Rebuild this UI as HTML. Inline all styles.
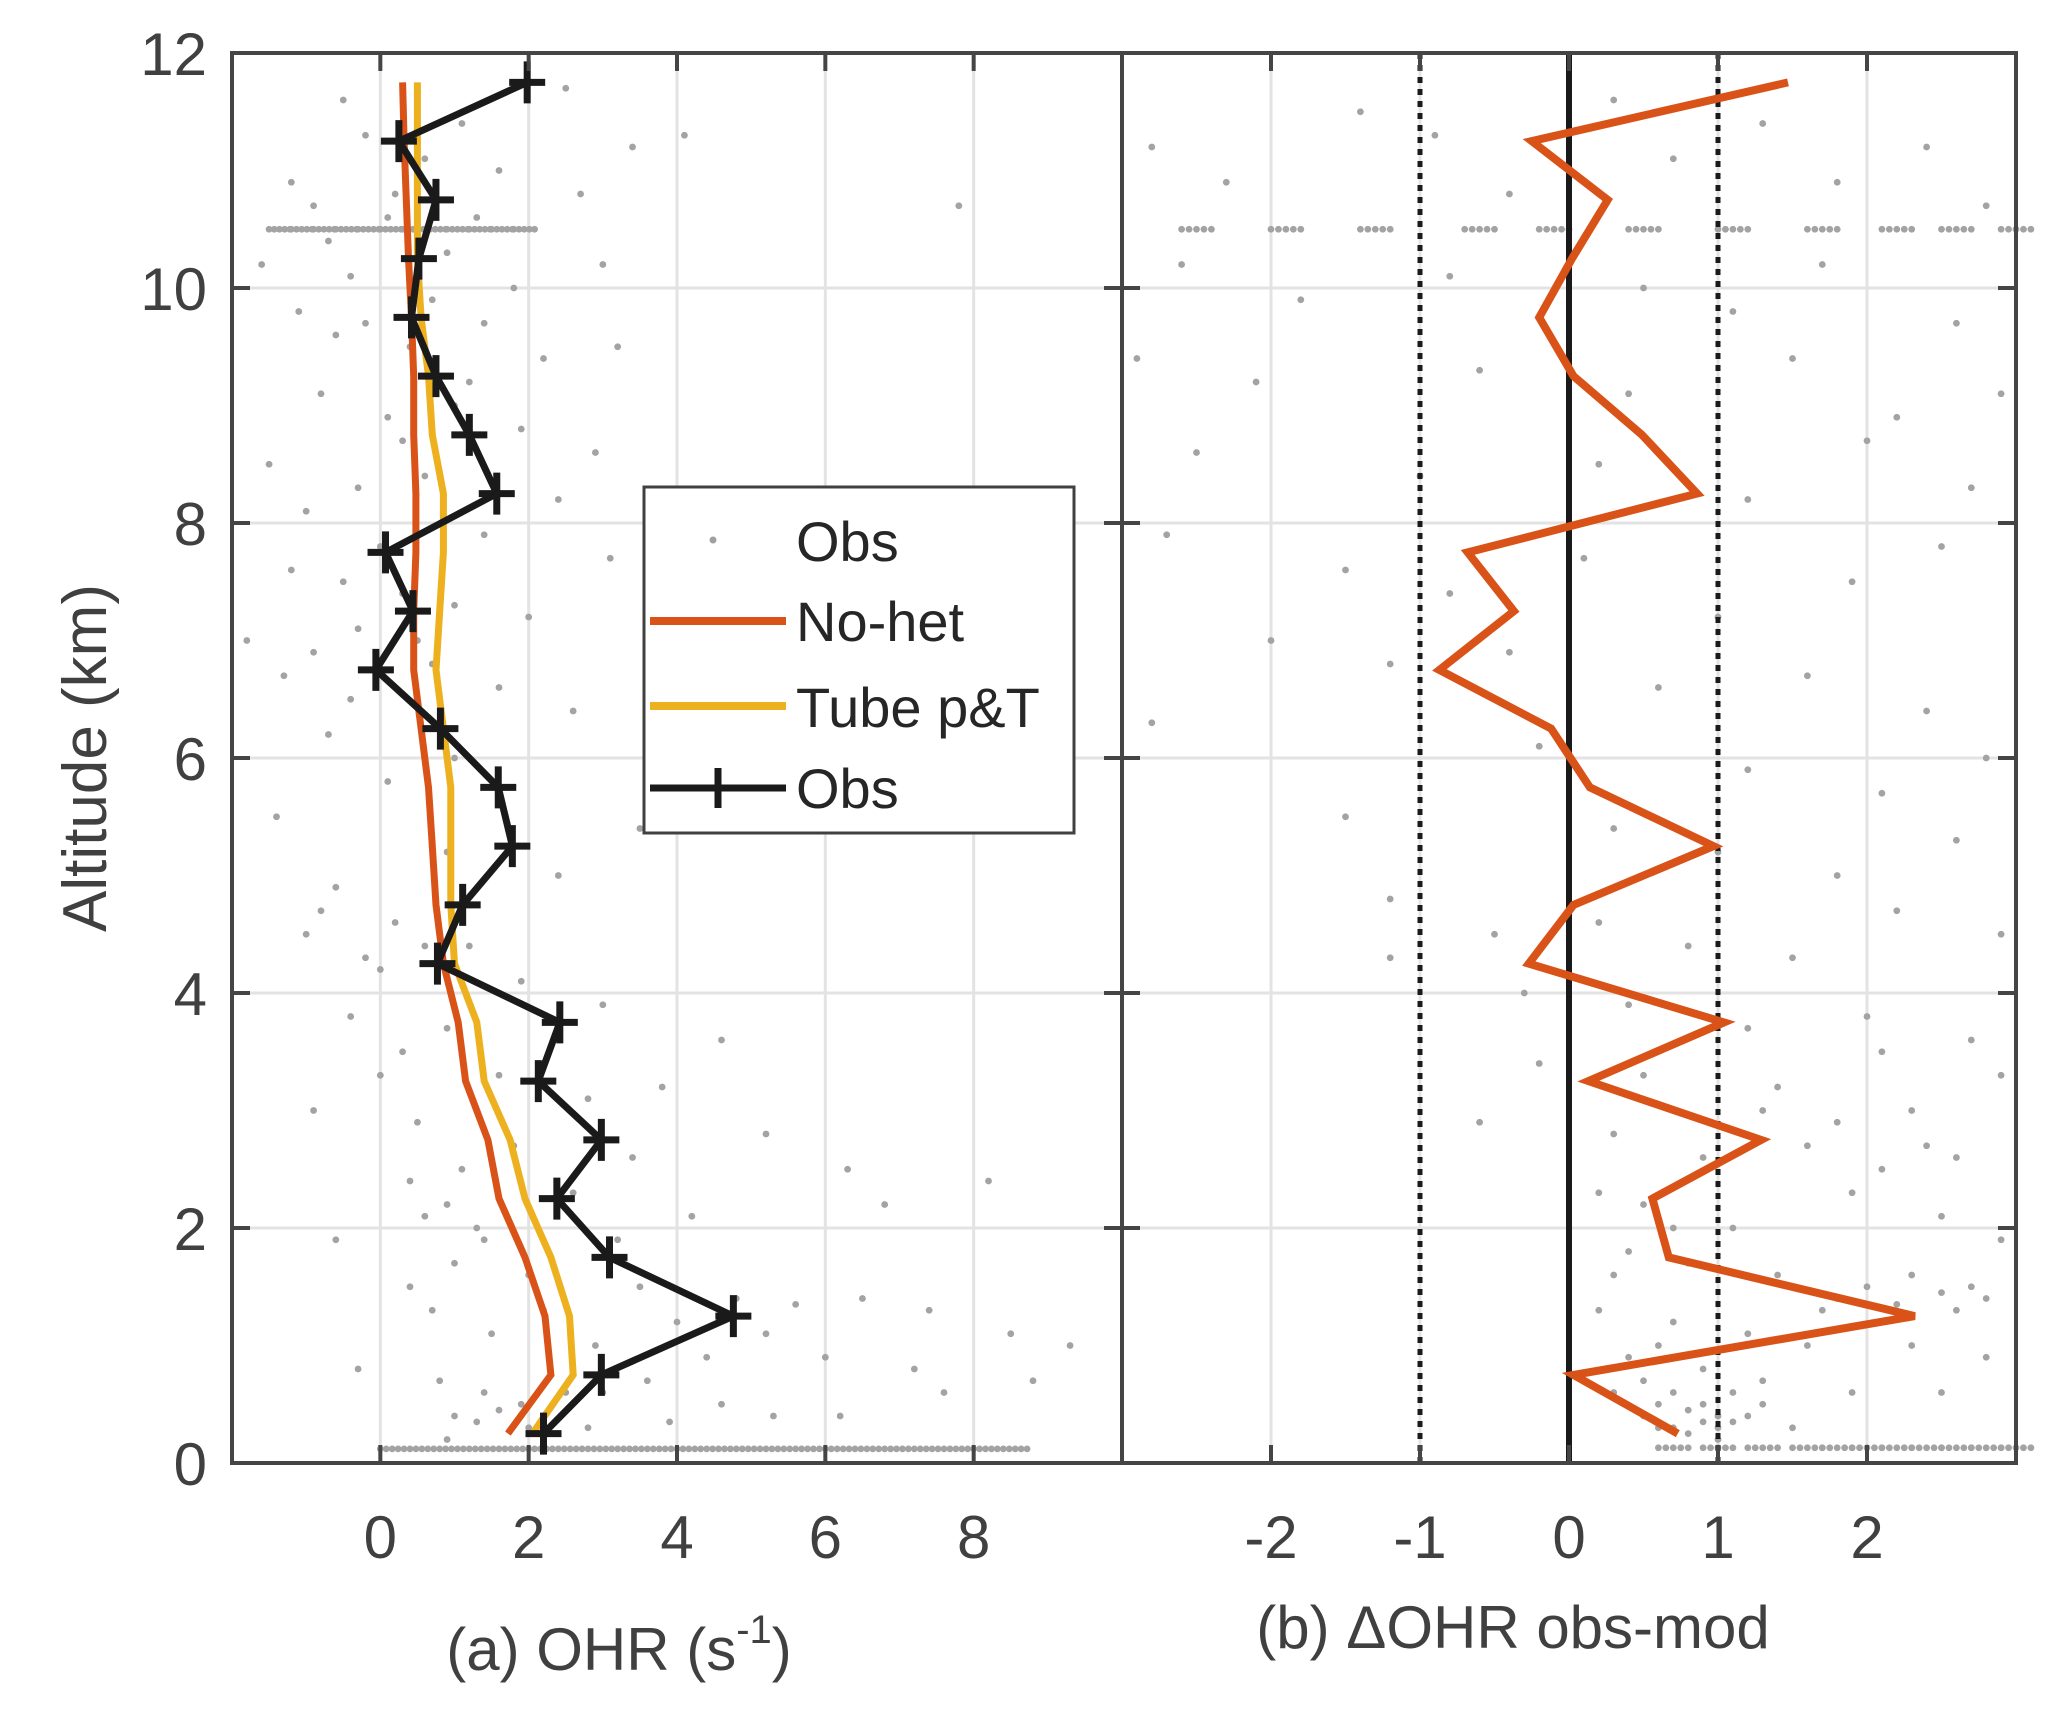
<!DOCTYPE html>
<html><head><meta charset="utf-8"><style>
html,body{margin:0;padding:0;background:#fff;}
svg{display:block;font-family:"Liberation Sans",Arial,sans-serif;}
</style></head><body>
<svg id="chart" width="2067" height="1712" viewBox="0 0 2067 1712" xmlns="http://www.w3.org/2000/svg">
<rect width="2067" height="1712" fill="#fff"/>
<g id="gridA"></g>
<g id="gridB"></g>
<g id="dotsA"></g>
<g id="dotsB"></g>
<g id="refB"></g>
<g id="seriesA"></g>
<g id="seriesB"></g>
<g id="axes"></g>
<g id="labels" fill="#404040" font-size="60"></g>
<text transform="translate(106,758) rotate(-90)" text-anchor="middle" font-size="62" fill="#404040">Altitude  (km)</text>
<text x="619" y="1670" text-anchor="middle" font-size="60" fill="#404040">(a)  OHR (s<tspan dy="-27" font-size="40">-1</tspan><tspan dy="27">)</tspan></text>
<text x="1513" y="1648" text-anchor="middle" font-size="60" fill="#404040">(b) ΔOHR obs-mod</text>
<g>
<rect x="644" y="487" width="430" height="346" fill="#fff" stroke="#404040" stroke-width="3"/>
<circle cx="713" cy="540" r="3.5" fill="#a0a0a0"/>
<text x="796" y="561" font-size="56" fill="#262626">Obs</text>
<line x1="650" y1="621" x2="786" y2="621" stroke="#D95319" stroke-width="8"/>
<text x="796" y="641" font-size="56" fill="#262626">No-het</text>
<line x1="650" y1="706" x2="786" y2="706" stroke="#EDB120" stroke-width="8"/>
<text x="796" y="727" font-size="56" fill="#262626">Tube p&amp;T</text>
<line x1="650" y1="788" x2="786" y2="788" stroke="#1a1a1a" stroke-width="7"/>
<path d="M718 768V808M698 788H738" stroke="#1a1a1a" stroke-width="7"/>
<text x="796" y="808" font-size="56" fill="#262626">Obs</text>
</g>
</svg>
<script>
const altitudes = [0.25,0.75,1.25,1.75,2.25,2.75,3.25,3.75,4.25,4.75,5.25,5.75,6.25,6.75,7.25,7.75,8.25,8.75,9.25,9.75,10.25,10.75,11.25,11.75];
const obsValues = [2.2,2.98,4.76,3.09,2.38,2.98,2.13,2.42,0.77,1.11,1.78,1.59,0.81,-0.06,0.44,0.07,1.57,1.2,0.75,0.42,0.52,0.75,0.25,1.98];
const noHetValues = [1.72,2.3,2.22,1.95,1.6,1.45,1.15,1.05,0.85,0.75,0.7,0.65,0.55,0.45,0.45,0.48,0.48,0.45,0.45,0.42,0.38,0.35,0.32,0.3];
const tubeValues = [2.05,2.6,2.55,2.3,1.95,1.75,1.4,1.3,1.0,0.95,0.95,0.95,0.85,0.75,0.8,0.85,0.85,0.7,0.65,0.55,0.5,0.5,0.5,0.5];
const deltaValues = [0.73,0.03,2.32,0.67,0.56,1.29,0.13,1.04,-0.27,0.03,0.97,0.14,-0.12,-0.87,-0.37,-0.68,0.86,0.49,0.03,-0.2,0.02,0.26,-0.25,1.47];
const yTicks = [0,2,4,6,8,10,12];
const xTicksA = [0,2,4,6,8];
const xTicksB = [-2,-1,0,1,2];
const scatterA = [-0.5,11.6,-0.2,11.3,0.6,11.1,1.1,11.4,1.6,11.0,2.5,11.7,3.4,11.2,-1.2,10.9,-0.9,10.7,0.2,10.8,1.3,10.6,2.7,10.8,4.1,11.3,7.8,10.7,-1.6,10.2,-0.4,10.1,0.9,10.3,1.8,10.0,3.0,10.2,-1.1,9.8,-0.6,9.6,0.4,9.5,1.4,9.7,2.2,9.4,3.2,9.5,-0.8,9.1,0.1,8.9,1.0,9.0,1.9,8.8,2.9,8.6,-1.5,8.5,-0.3,8.3,0.6,8.4,2.4,8.2,1.4,7.9,-1.2,7.6,-0.5,7.5,0.3,7.4,1.0,7.3,2.0,7.2,3.1,7.7,-1.8,7.0,-0.9,6.9,0.7,6.8,1.6,6.6,-0.4,6.5,2.6,6.4,-1.4,5.5,0.9,5.2,2.4,5.0,3.5,5.4,-0.6,4.9,0.2,4.6,1.2,4.4,-1.0,4.5,-0.2,4.3,1.9,4.1,3.0,3.9,4.6,3.6,0.3,3.5,1.6,3.3,2.8,3.1,3.8,3.2,-0.9,3.0,0.5,2.9,1.8,2.7,3.4,2.6,5.2,2.8,6.3,2.5,0.9,2.2,0.6,2.1,1.3,2.0,2.6,2.3,4.2,2.1,6.8,2.2,8.2,2.4,-0.6,1.9,1.0,1.7,2.0,1.6,3.5,1.5,4.8,1.4,5.6,1.35,6.5,1.4,7.4,1.3,8.5,1.1,9.3,1.0,0.7,1.3,1.5,1.1,2.9,1.0,4.0,1.2,5.2,1.1,6.0,0.9,7.2,0.8,8.8,0.7,0.8,0.7,1.4,0.6,1.9,0.5,2.5,0.6,3.6,0.7,4.6,0.5,6.2,0.4,7.6,0.6,1.0,0.4,1.3,0.35,1.6,0.45,2.0,0.3,2.8,0.3,3.9,0.35,5.3,0.4,-0.3,0.8,0.4,1.5,-0.7,10.4,0.1,10.6,0.7,9.9,-0.2,9.7,1.2,9.2,0.3,8.7,-1.0,8.1,0.0,7.8,-0.3,7.1,0.5,7.0,-1.3,6.7,-0.7,6.2,1.0,6.0,0.1,5.8,-0.8,4.7,0.6,4.4,0.0,4.2,-0.4,3.8,0.9,3.7,0.0,3.3,1.1,2.5,0.4,2.4,1.4,1.9,2.2,1.3,3.0,0.6,4.4,0.9,0.9,0.2,3.2,1.9];
const streakA = [0.0,0.4,0.8,1.2,1.6,2.0,2.4,2.8,3.2,3.6,4.0,4.4,4.8,5.2,5.6,6.0,6.4,6.8,7.2,7.6,8.0,8.4];
const streakTopA = [-1.5,-1.2,-0.9,-0.6,-0.3,0.0,0.3,0.6,0.9,1.2,1.5,1.8];
const scatterB = [-2.8,11.2,-2.3,10.9,-1.4,11.5,-0.9,11.3,-0.4,10.8,0.3,11.6,0.7,11.1,1.3,11.4,1.8,10.9,2.4,11.2,2.8,10.7,-2.6,10.2,-1.8,9.9,-0.8,10.1,0.5,10.0,1.1,9.8,1.7,10.2,2.6,9.7,-2.9,9.4,-2.1,9.2,-0.6,9.3,0.4,9.1,1.5,9.4,2.2,8.9,2.9,9.1,-2.5,8.6,-1.0,8.4,0.2,8.5,1.2,8.2,2.0,8.7,2.7,8.3,-2.7,7.9,-1.5,7.6,-0.8,7.4,0.1,7.7,1.0,7.2,1.9,7.5,2.5,7.8,-2.0,7.0,-1.2,6.8,-0.4,6.9,0.6,6.6,1.6,6.7,2.4,6.4,-2.8,6.3,-0.2,6.1,1.2,5.9,2.1,5.7,2.8,6.0,-1.5,5.5,0.3,5.4,1.0,5.2,1.8,5.0,2.6,5.3,-1.2,4.8,-0.5,4.5,0.2,4.6,0.8,4.4,1.5,4.3,2.2,4.7,2.9,4.5,-1.2,4.3,-0.3,4.0,0.4,3.9,1.2,3.7,2.0,3.8,2.7,3.6,-0.2,3.4,0.5,3.3,1.4,3.2,2.3,3.0,2.9,3.3,-0.6,2.9,0.3,2.8,0.9,2.6,1.6,2.7,2.1,2.5,2.6,2.6,0.2,2.3,0.5,2.2,1.1,2.0,1.9,2.3,2.5,2.1,2.9,1.9,0.4,1.8,0.8,1.7,1.4,1.6,2.0,1.5,2.5,1.45,2.8,1.4,1.8,1.4,2.2,1.35,0.2,1.3,0.7,1.2,1.2,1.1,1.6,1.0,2.3,1.0,2.8,0.9,0.4,0.9,0.9,0.8,1.3,0.7,1.9,0.6,2.5,0.6,0.3,0.6,0.6,0.5,0.8,0.45,1.0,0.4,1.1,0.35,1.2,0.4,0.9,0.35,0.7,0.3,1.0,0.3,1.3,0.5,1.5,0.3,0.5,0.4,2.6,1.3,2.7,1.5,2.3,1.6,1.7,1.3,0.6,1.0,0.5,0.7,0.7,0.6,0.9,0.5,1.1,0.6,0.8,0.25,1.0,0.2,0.6,0.3,2.1,3.5,1.8,2.9,0.7,2.0,0.3,1.6,2.4,2.7,1.3,3.0];
const streakB = [0.6,0.9,1.2,1.5,1.7,1.9,2.1,2.3,2.5,2.7,2.9];
const streakTopB = [-2.6,-2.0,-1.4,-0.7,-0.2,0.4,1.0,1.6,2.1,2.5,2.9];

const NS='http://www.w3.org/2000/svg';
const L=232, M=1122, R=2016, T=53, B=1463;
const xA=v=>L+(v+2)/12*(M-L);
const xB=v=>M+(v+3)/6*(R-M);
const yS=v=>B-v/12*(B-T);
function mk(tag,attrs,parent){const e=document.createElementNS(NS,tag);for(const k in attrs)e.setAttribute(k,attrs[k]);parent.appendChild(e);return e;}
const $=id=>document.getElementById(id);

yTicks.forEach(t=>{
  let g=mk('line',{x1:L,x2:M,y1:yS(t),y2:yS(t),stroke:'#e3e3e3','stroke-width':3},$('gridA'));
  
  
  let g2=mk('line',{x1:M,x2:R,y1:yS(t),y2:yS(t),stroke:'#e3e3e3','stroke-width':3},$('gridB'));
  
  
});
xTicksA.forEach(t=>{
  let g=mk('line',{x1:xA(t),x2:xA(t),y1:T,y2:B,stroke:'#e3e3e3','stroke-width':3},$('gridA'));
  
  
});
xTicksB.forEach(t=>{
  let g=mk('line',{x1:xB(t),x2:xB(t),y1:T,y2:B,stroke:'#e3e3e3','stroke-width':3},$('gridB'));
  
  
});

function dot(x,y,par,name){const c=mk('circle',{cx:x,cy:y,r:3.4,fill:'#a3a3a3'},par);
  
  }
for(let i=0;i<scatterA.length;i+=2){dot(xA(scatterA[i]),yS(scatterA[i+1]),$('dotsA'),'obs-dot-a');}
streakA.forEach(v=>{for(let k=0;k<5;k++)dot(xA(v+k*0.08),yS(0.12),$('dotsA'),'obs-dot-a');});
streakTopA.forEach(v=>{for(let k=0;k<5;k++)dot(xA(v+k*0.07),yS(10.5),$('dotsA'),'obs-dot-a');});
for(let i=0;i<scatterB.length;i+=2){dot(xB(scatterB[i]),yS(scatterB[i+1]),$('dotsB'),'obs-dot-b');}
streakB.forEach(v=>{for(let k=0;k<5;k++)dot(xB(v+k*0.05),yS(0.13),$('dotsB'),'obs-dot-b');});
streakTopB.forEach(v=>{for(let k=0;k<5;k++)dot(xB(v+k*0.05),yS(10.5),$('dotsB'),'obs-dot-b');});

[-1,1].forEach(v=>{
  const l=mk('line',{x1:xB(v),x2:xB(v),y1:T,y2:B,stroke:'#1a1a1a','stroke-width':5,'stroke-dasharray':'6 6'},$('refB'));
  
  
});
const z=mk('line',{x1:xB(0),x2:xB(0),y1:T,y2:B,stroke:'#1a1a1a','stroke-width':6},$('refB'));



function poly(vals,xf,color,w,par,name){
  const pts=vals.map((v,i)=>xf(v).toFixed(1)+','+yS(altitudes[i]).toFixed(1)).join(' ');
  const p=mk('polyline',{points:pts,fill:'none',stroke:color,'stroke-width':w,'stroke-linejoin':'miter'},par);
  
  
}
poly(noHetValues,xA,'#D95319',7,$('seriesA'),'nohet-line');
poly(tubeValues,xA,'#EDB120',7,$('seriesA'),'tube-line');
poly(obsValues,xA,'#1a1a1a',7,$('seriesA'),'obs-line');
obsValues.forEach((v,i)=>{
  const x=xA(v),y=yS(altitudes[i]);
  const m=mk('path',{d:`M${x-18} ${y}H${x+18}M${x} ${y-21}V${y+21}`,stroke:'#1a1a1a','stroke-width':7},$('seriesA'));
  
  
});
poly(deltaValues,xB,'#D95319',8,$('seriesB'),'delta-ohr-line');

const ax=$('axes');
[[L,T,R,T],[L,B,R,B],[L,T,L,B],[M,T,M,B],[R,T,R,B]].forEach(a=>{
  const l=mk('line',{x1:a[0],y1:a[1],x2:a[2],y2:a[3],stroke:'#454545','stroke-width':4,'stroke-linecap':'square'},ax);
  
  
});
const tk=18;
yTicks.forEach(t=>{const y=yS(t);
  [[L,L+tk],[M-tk,M+tk],[R-tk,R]].forEach(s=>{
    const l=mk('line',{x1:s[0],x2:s[1],y1:y,y2:y,stroke:'#454545','stroke-width':4},ax);
    
    });
  const tx=mk('text',{x:207,y:y+22,'text-anchor':'end'},$('labels'));tx.textContent=t;
  
  
});
function xt(xf,ticks,nm){ticks.forEach(t=>{const x=xf(t);
  [[B,B-tk],[T,T+tk]].forEach(s=>{
    const l=mk('line',{x1:x,x2:x,y1:s[0],y2:s[1],stroke:'#454545','stroke-width':4},ax);
    
    });
  const tx=mk('text',{x:x,y:1558,'text-anchor':'middle'},$('labels'));tx.textContent=t;
  
  
});}
xt(xA,xTicksA,'x-tick-label-a');
xt(xB,xTicksB,'x-tick-label-b');
</script>
</body></html>
